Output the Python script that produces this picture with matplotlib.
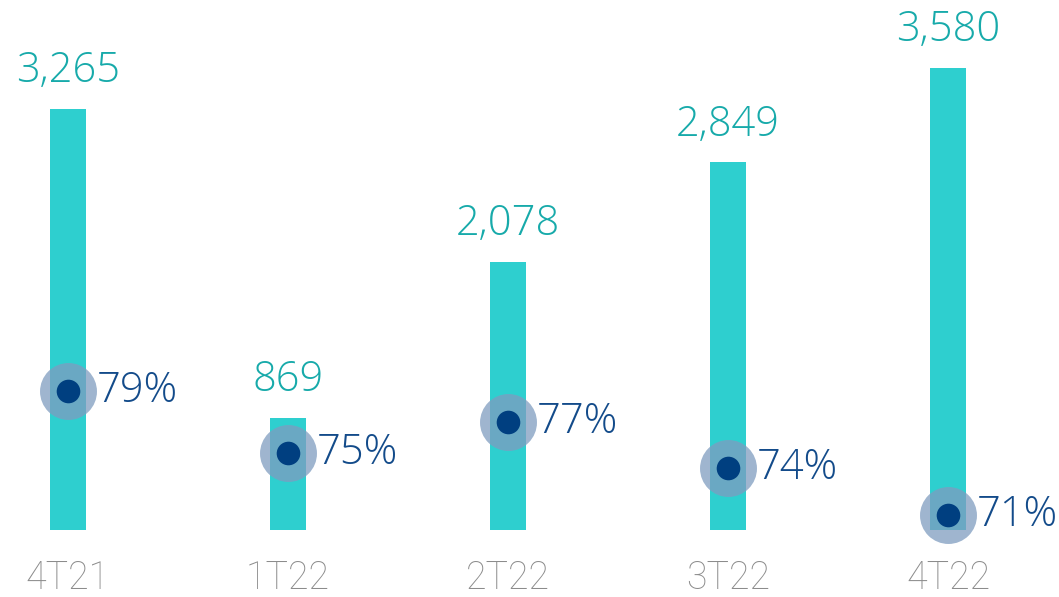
import matplotlib.pyplot as plt

# quarters and values
quarters = ['4T21', '1T22', '2T22', '3T22', '4T22']
volumes = [3265, 869, 2078, 2849, 3580]
ratios = [79, 75, 77, 74, 71]

plt.rcParams['font.family'] = ['Open Sans', 'DejaVu Sans']

fig = plt.figure(figsize=(10.59, 5.97), dpi=100)
ax = fig.add_axes([0, 0, 1, 1])
x = list(range(len(quarters)))

# bars
ax.bar(x, volumes, width=0.164, color='#2ECFCF', zorder=1)
ax.set_xlim(-0.309, 4.5045)
ax.set_ylim(-519, 4107)
ax.axis('off')

for i, v in enumerate(volumes):
    ax.annotate(f'{v:,}', (i, v), xytext=(0, 12), textcoords='offset points',
                ha='center', va='bottom', fontsize=30, color='#17AAAA',
                fontweight='light')
    ax.text(i, -370, quarters[i], ha='center', va='center', fontsize=27,
            color='#8C8C8C', fontweight='light', family=['Roboto', 'DejaVu Sans'])

# ratio dots on a second scale
ax2 = ax.twinx()
ax2.set_ylim(65.68, 104.19)
ax2.axis('off')
ax2.scatter(x, ratios, s=41**2, color='#7F9CC0', alpha=0.75, linewidths=0, zorder=2)
ax2.scatter(x, ratios, s=17**2, color='#003F80', linewidths=0, zorder=3)
for i, r in enumerate(ratios):
    ax2.annotate(f'{r}%', (i, r), xytext=(21, 0), textcoords='offset points',
                 ha='left', va='center', fontsize=30, color='#134B8A',
                 fontweight='light')

fig.savefig('out.png', dpi=100)
